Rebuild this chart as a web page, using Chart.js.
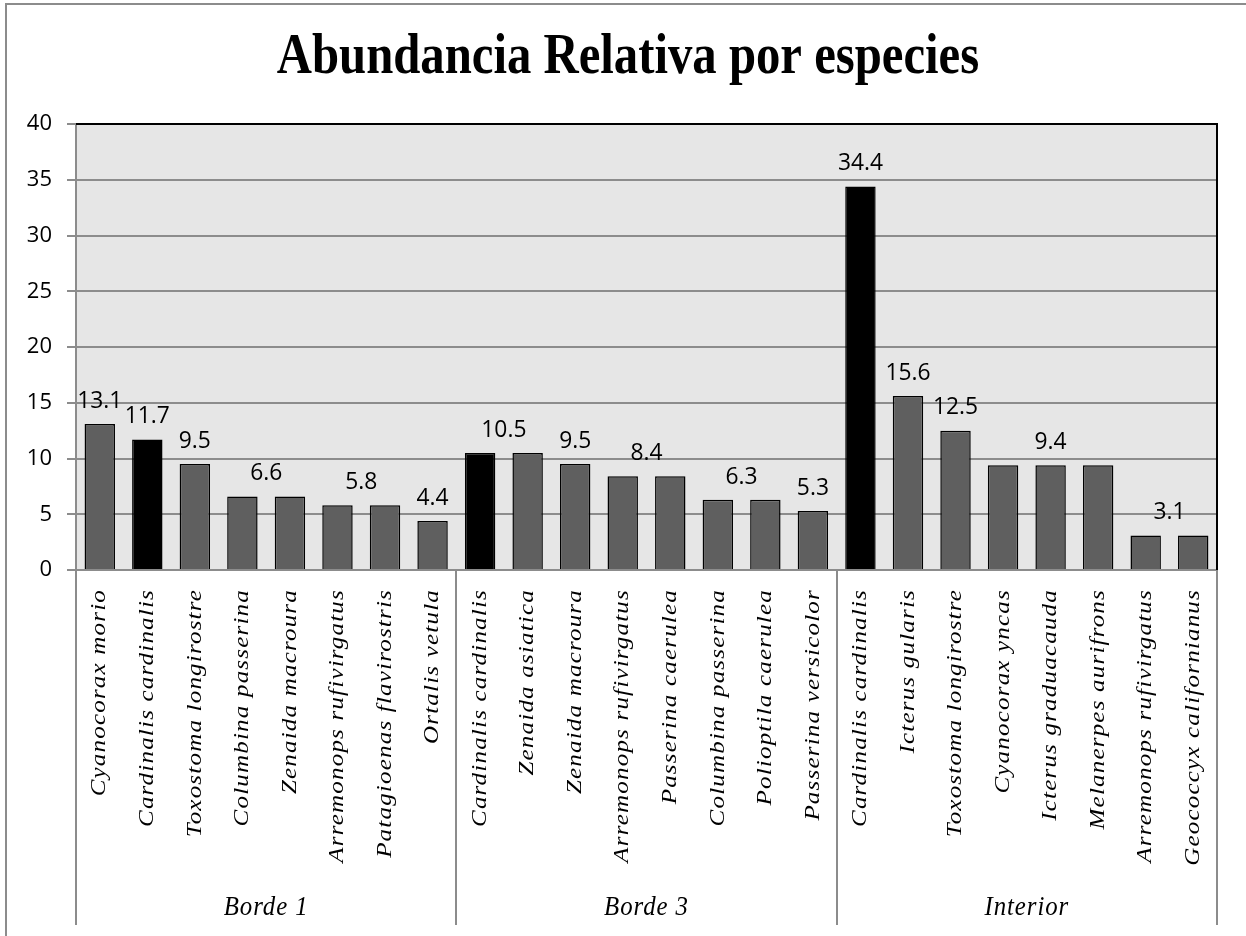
<!DOCTYPE html>
<html>
<head>
<meta charset="utf-8">
<script src="https://cdn.jsdelivr.net/npm/chart.js@4/dist/chart.umd.min.js"></script>
<style>
  html, body { margin: 0; padding: 0; background: #fff; }
  canvas { display: block; }
</style>
</head>
<body>
<canvas id="chart" width="1246" height="936"></canvas>
<script>
  // Datos del gráfico
  const titleText = 'Abundancia Relativa por especies';

  const groups = ['Borde 1', 'Borde 3', 'Interior'];
  const groupSizes = [8, 8, 8];

  const species = [
    'Cyanocorax morio', 'Cardinalis cardinalis', 'Toxostoma longirostre', 'Columbina passerina',
    'Zenaida macroura', 'Arremonops rufivirgatus', 'Patagioenas flavirostris', 'Ortalis vetula',
    'Cardinalis cardinalis', 'Zenaida asiatica', 'Zenaida macroura', 'Arremonops rufivirgatus',
    'Passerina caerulea', 'Columbina passerina', 'Polioptila caerulea', 'Passerina versicolor',
    'Cardinalis cardinalis', 'Icterus gularis', 'Toxostoma longirostre', 'Cyanocorax yncas',
    'Icterus graduacauda', 'Melanerpes aurifrons', 'Arremonops rufivirgatus', 'Geococcyx californianus'
  ];

  const abundance = [
    13.1, 11.7, 9.5, 6.6, 6.6, 5.8, 5.8, 4.4,
    10.5, 10.5, 9.5, 8.4, 8.4, 6.3, 6.3, 5.3,
    34.4, 15.6, 12.5, 9.4, 9.4, 9.4, 3.1, 3.1
  ];

  // how many bars each data label is shared over (0 = no label starts here)
  const labelSpan = [
    1, 1, 1, 2, 0, 2, 0, 1,
    2, 0, 1, 2, 0, 2, 0, 1,
    1, 1, 1, 3, 0, 0, 2, 0
  ];

  const yMin = 0, yMax = 40, yStep = 5;

  const highlightSpecies = 'Cardinalis cardinalis';

  const colors = {
    bar: '#5f5f5f',
    highlight: '#000000',
    plotBg: '#e6e6e6',
    grid: '#8c8c8c',
    frame: '#8c8c8c',
    text: '#000000'
  };

  const serif = '"Liberation Serif", "Times New Roman", serif';
  const sans = '"Open Sans", "DejaVu Sans", sans-serif';
  // the original text looks squeezed horizontally
  const squeeze = 0.87;

  const chartDecor = {
    id: 'chartDecor',
    beforeDraw(chart) {
      const { ctx, chartArea: a } = chart;
      ctx.save();
      ctx.fillStyle = '#ffffff';
      ctx.fillRect(0, 0, chart.width, chart.height);
      ctx.fillStyle = colors.plotBg;
      ctx.fillRect(a.left, a.top, a.right - a.left, a.bottom - a.top);
      ctx.restore();
    },
    afterDatasetsDraw(chart) {
      const { ctx, chartArea: a } = chart;
      const x = chart.scales.x, y = chart.scales.y;
      const n = species.length;
      ctx.save();

      // plot border: black top and right
      ctx.strokeStyle = '#000';
      ctx.lineWidth = 2;
      ctx.beginPath();
      ctx.moveTo(a.left, a.top);
      ctx.lineTo(a.right, a.top);
      ctx.lineTo(a.right, a.bottom);
      ctx.stroke();

      // data labels
      ctx.fillStyle = colors.text;
      ctx.font = '24px ' + sans;
      ctx.textAlign = 'center';
      ctx.textBaseline = 'middle';
      labelSpan.forEach((span, i) => {
        if (!span) return;
        const cx = x.getPixelForDecimal((i + span / 2) / n);
        const cy = y.getPixelForValue(abundance[i]) - 23;
        ctx.save();
        ctx.translate(cx, cy);
        ctx.scale(0.95, 1);
        ctx.fillText(abundance[i].toFixed(1), 0, 0);
        ctx.restore();
      });

      // species labels (rotated)
      ctx.font = 'italic 25px ' + serif;
      ctx.letterSpacing = '1.2px';
      ctx.textAlign = 'right';
      ctx.textBaseline = 'middle';
      species.forEach((name, i) => {
        ctx.save();
        ctx.translate(x.getPixelForValue(i), a.bottom + 19);
        ctx.rotate(-Math.PI / 2);
        ctx.scale(1, squeeze);
        ctx.fillText(name, 0, 0);
        ctx.restore();
      });
      ctx.letterSpacing = '0px';

      // group separators and group labels
      ctx.strokeStyle = colors.grid;
      ctx.lineWidth = 2;
      let start = 0;
      const bounds = [0];
      groupSizes.forEach(s => { start += s; bounds.push(start); });
      bounds.forEach(b => {
        const px = Math.round(x.getPixelForDecimal(b / n));
        ctx.beginPath();
        ctx.moveTo(px, a.bottom);
        ctx.lineTo(px, a.bottom + 355);
        ctx.stroke();
      });
      ctx.font = 'italic 27px ' + serif;
      ctx.letterSpacing = '1px';
      ctx.textAlign = 'center';
      groups.forEach((g, k) => {
        const cx = x.getPixelForDecimal((bounds[k] + bounds[k + 1]) / 2 / n);
        ctx.save();
        ctx.translate(cx, a.bottom + 338);
        ctx.scale(squeeze + 0.05, 1);
        ctx.fillText(g, 0, 0);
        ctx.restore();
      });
      ctx.letterSpacing = '0px';

      // title
      ctx.font = 'bold 56px ' + serif;
      ctx.textAlign = 'center';
      ctx.textBaseline = 'alphabetic';
      ctx.save();
      ctx.translate(628, 73);
      ctx.scale(squeeze, 1);
      ctx.fillText(titleText, 0, 0);
      ctx.restore();

      // outer frame
      ctx.strokeStyle = colors.frame;
      ctx.lineWidth = 2;
      ctx.strokeRect(6, 4, chart.width + 20, chart.height + 20);
      ctx.restore();
    }
  };

  new Chart(document.getElementById('chart'), {
    type: 'bar',
    data: {
      labels: species,
      datasets: [{
        data: abundance,
        backgroundColor: species.map(s => s === highlightSpecies ? colors.highlight : colors.bar),
        borderColor: '#000',
        borderWidth: 1.5,
        barPercentage: 0.64,
        categoryPercentage: 1
      }]
    },
    options: {
      responsive: false,
      animation: false,
      layout: { padding: { top: 124, right: 29, left: 0, bottom: 0 } },
      plugins: {
        legend: { display: false },
        title: { display: false },
        tooltip: { enabled: false }
      },
      scales: {
        x: {
          grid: { display: false },
          border: { display: true, color: colors.grid, width: 2 },
          ticks: { display: false },
          afterFit(scale) { scale.height = 366; }
        },
        y: {
          min: yMin,
          max: yMax,
          ticks: {
            stepSize: yStep,
            color: colors.text,
            font: { family: sans, size: 22 },
            padding: 15
          },
          grid: { color: colors.grid, lineWidth: 2, tickLength: 9 },
          border: { display: true, color: colors.grid, width: 2 },
          afterFit(scale) { scale.width = 76; }
        }
      }
    },
    plugins: [chartDecor]
  });
</script>
</body>
</html>
